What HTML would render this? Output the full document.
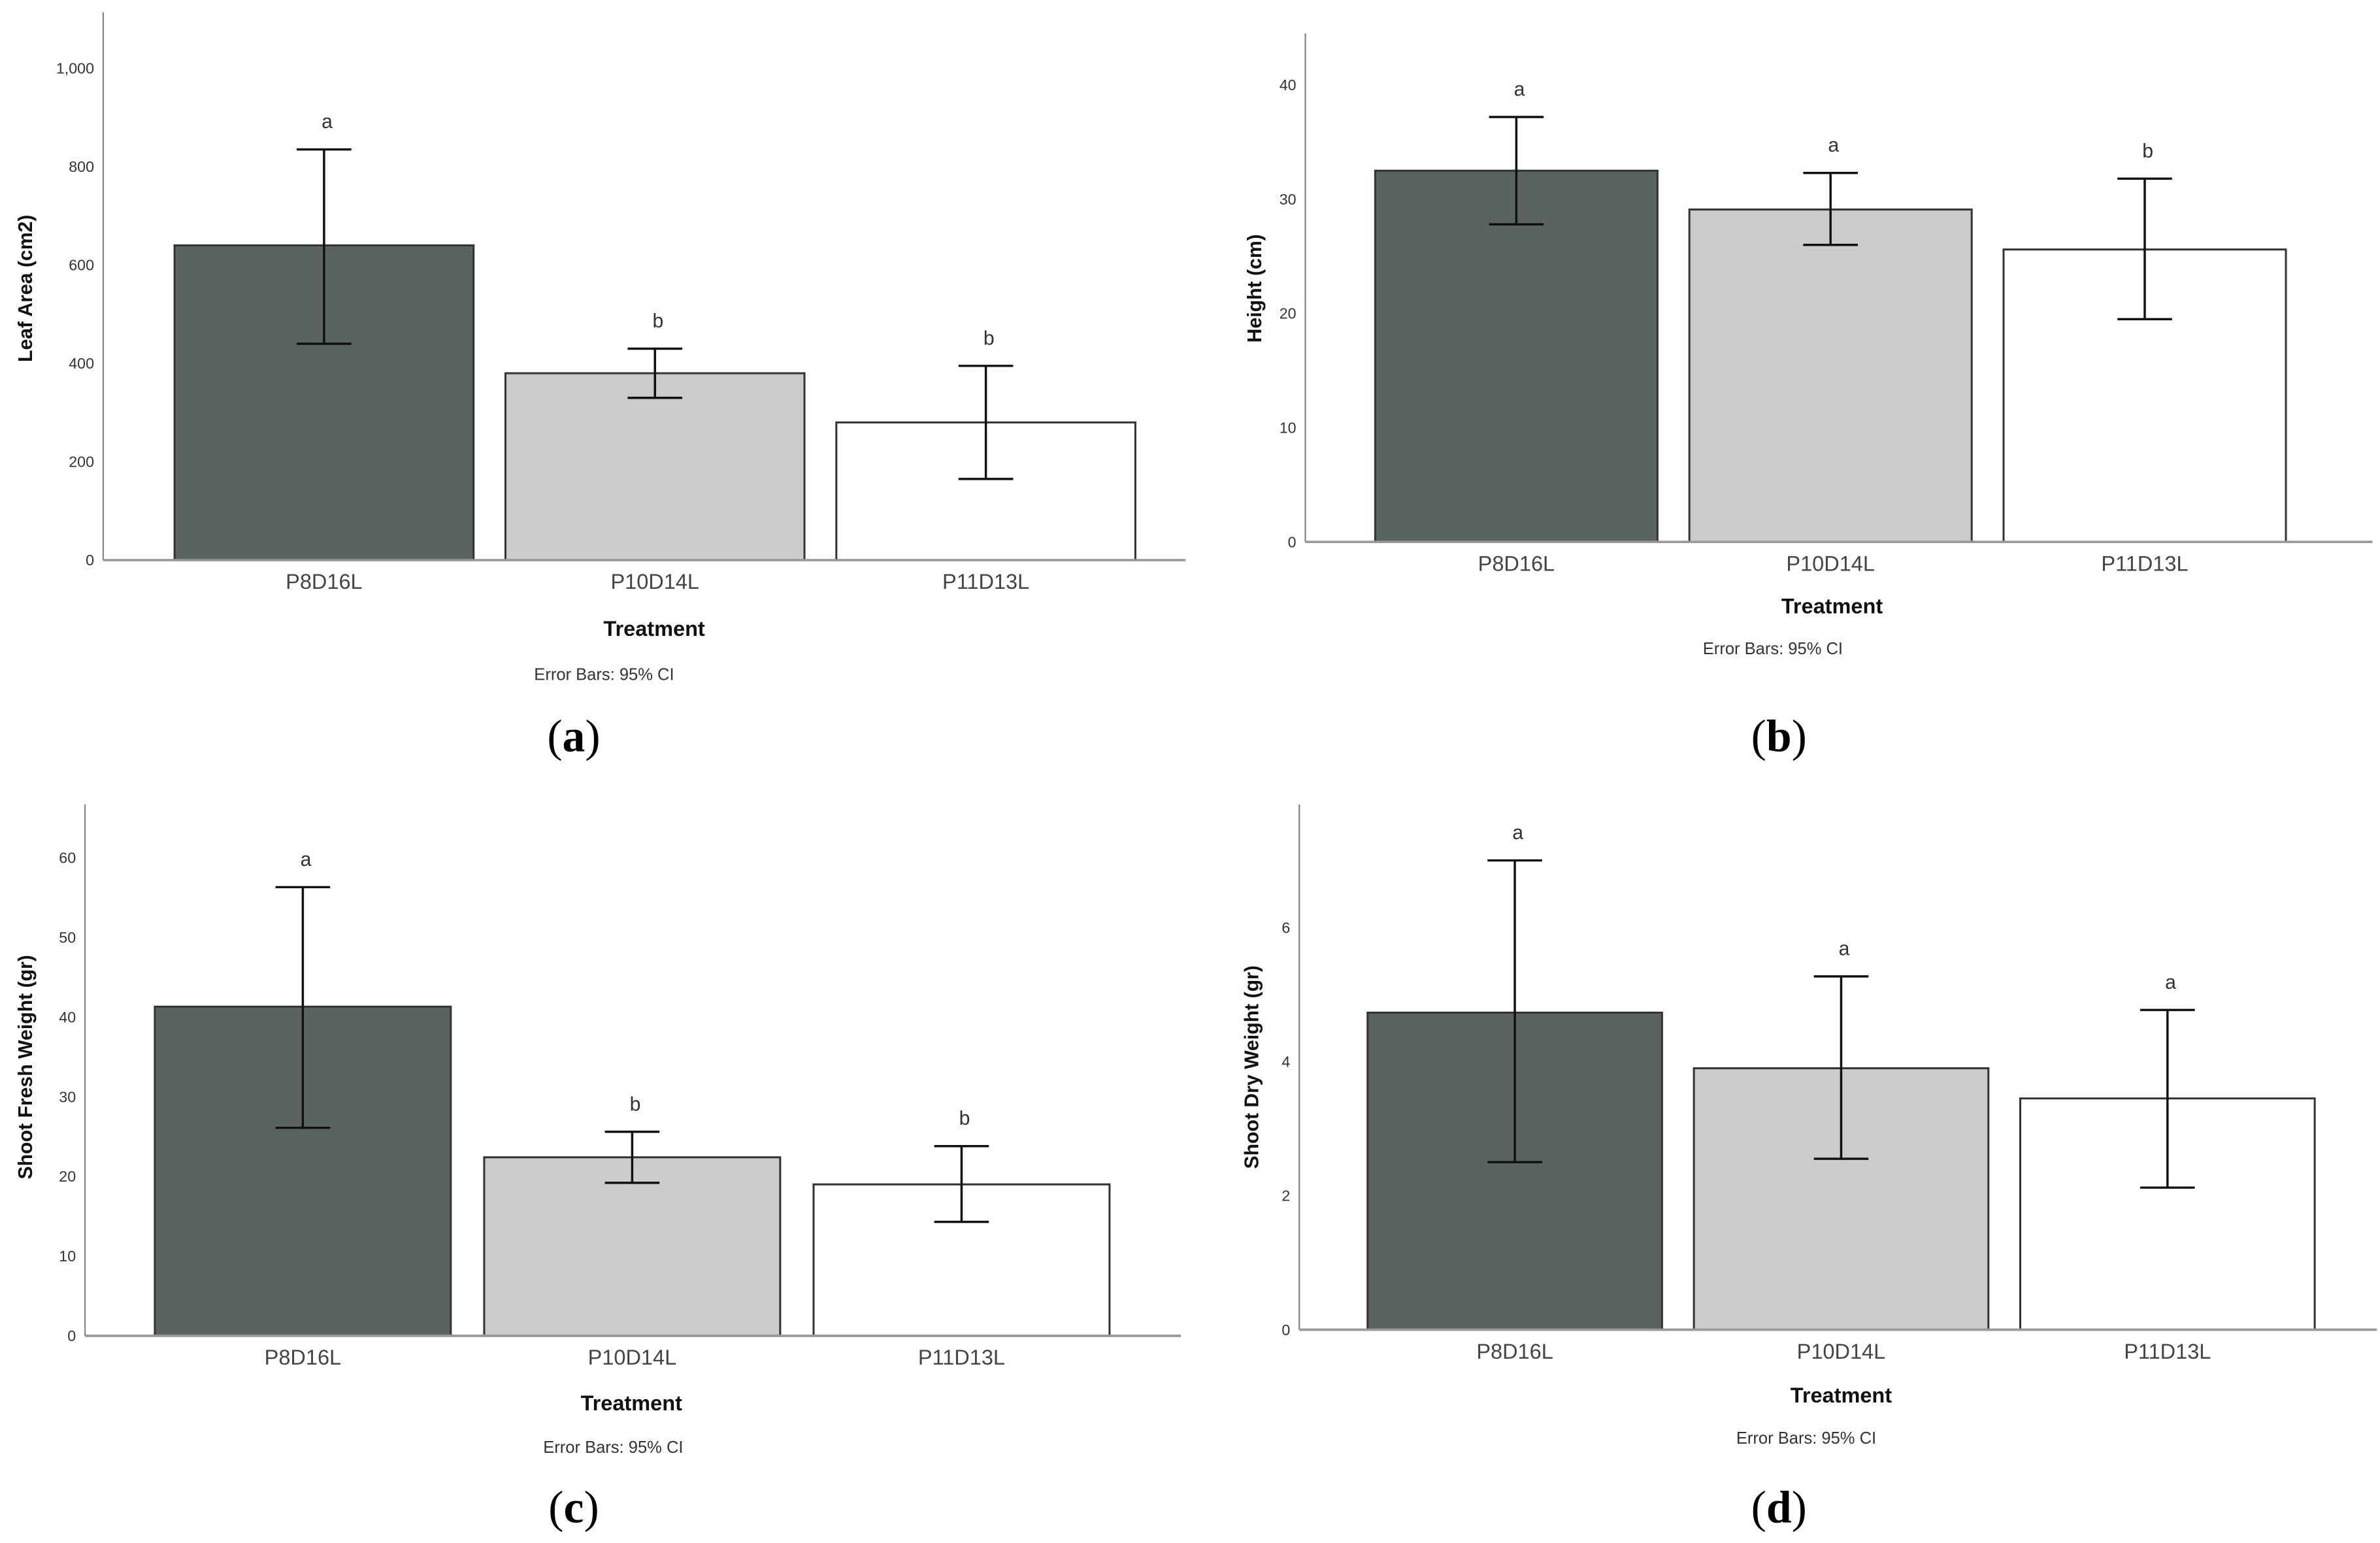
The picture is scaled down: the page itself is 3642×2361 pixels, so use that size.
<!DOCTYPE html>
<html><head><meta charset="utf-8">
<style>
html,body{margin:0;padding:0;background:#fff;}
svg{display:block;}
text{font-family:"Liberation Sans",sans-serif;}
</style></head>
<body>
<svg id="fig" width="3642" height="2361" viewBox="0 0 1568 1016.5" preserveAspectRatio="none" xmlns="http://www.w3.org/2000/svg">
<rect width="1568" height="1016.5" fill="#fff"/>
</svg>
<script>
const categories = ["P8D16L","P10D14L","P11D13L"];
const leafMeans = [640, 380, 280];
const leafHi = [835, 430, 395];
const leafLo = [440, 330, 165];
const leafLetters = ["a","b","b"];
const leafTicks = [0,200,400,600,800,1000];
const leafTickLabels = ["0","200","400","600","800","1,000"];
const heightMeans = [32.5, 29.1, 25.6];
const heightHi = [37.2, 32.3, 31.8];
const heightLo = [27.8, 26.0, 19.5];
const heightLetters = ["a","a","b"];
const heightTicks = [0,10,20,30,40];
const freshMeans = [41.3, 22.4, 19.0];
const freshHi = [56.3, 25.6, 23.8];
const freshLo = [26.1, 19.2, 14.3];
const freshLetters = ["a","b","b"];
const freshTicks = [0,10,20,30,40,50,60];
const dryMeans = [4.73, 3.9, 3.45];
const dryHi = [7.0, 5.27, 4.77];
const dryLo = [2.5, 2.55, 2.12];
const dryLetters = ["a","a","a"];
const dryTicks = [0,2,4,6];

const NS = "http://www.w3.org/2000/svg";
const svg = document.getElementById("fig");
const fills = ["#5a635d","#cbcbcb","#ffffff"];
function mk(tag, attrs, parent, txt){
  const e = document.createElementNS(NS, tag);
  for (const k in attrs) e.setAttribute(k, attrs[k]);
  if (txt !== undefined) e.textContent = txt;
  parent.appendChild(e);
  return e;
}
function panel(cfg){
  const g = mk("g", {}, svg);
  
  
  const y = v => cfg.y0 - v * (cfg.y0 - cfg.yTopTick) / cfg.vTop;
  const ya = mk("line", {x1:cfg.ax, y1:cfg.top, x2:cfg.ax, y2:cfg.y0, stroke:"#888", "stroke-width":1}, g);
  
  
  cfg.ticks.forEach((t, i) => {
    const tl = mk("text", {x:cfg.ax-6, y:y(t)+3.5, "font-size":10, fill:"#333", "text-anchor":"end"}, g, cfg.tickLabels ? cfg.tickLabels[i] : String(t));
    
    
  });
  const yt = mk("text", {x:0, y:0, "font-size":13, "font-weight":"bold", fill:"#111", "text-anchor":"middle", transform:`translate(${cfg.ytx},${cfg.yty}) rotate(-90)`}, g, cfg.ytitle);
  
  
  categories.forEach((c, i) => {
    const x0 = cfg.bx[i], w = cfg.bw;
    const r = mk("rect", {x:x0, y:y(cfg.means[i]), width:w, height:cfg.y0 - y(cfg.means[i]), fill:fills[i], stroke:"#333", "stroke-width":1.3}, g);
    
    
    const cx = x0 + w/2;
    const eb = mk("path", {d:`M${cx},${y(cfg.hi[i])}V${y(cfg.lo[i])}M${cx-18},${y(cfg.hi[i])}H${cx+18}M${cx-18},${y(cfg.lo[i])}H${cx+18}`, stroke:"#111", "stroke-width":1.5, fill:"none"}, g);
    
    
    const lt = mk("text", {x:cx+2, y:y(cfg.hi[i]) - 14, "font-size":13, fill:"#333", "text-anchor":"middle"}, g, cfg.letters[i]);
    
    
    const cl = mk("text", {x:cx, y:cfg.y0+19, "font-size":14, fill:"#444", "text-anchor":"middle"}, g, c);
    
    
  });
  const xa = mk("line", {x1:cfg.ax, y1:cfg.y0, x2:cfg.right, y2:cfg.y0, stroke:"#999", "stroke-width":1.6}, g);
  
  
  const xt = mk("text", {x:cfg.tx, y:cfg.ty, "font-size":14, "font-weight":"bold", fill:"#111", "text-anchor":"middle"}, g, "Treatment");
  
  
  const en = mk("text", {x:cfg.ex, y:cfg.ey, "font-size":11, fill:"#333", "text-anchor":"middle"}, g, "Error Bars: 95% CI");
  
  
  const pl = mk("text", {x:cfg.px, y:cfg.py, "font-size":30, fill:"#000", "text-anchor":"middle", style:"font-family:'Liberation Serif',serif"}, g);
  
  
  mk("tspan", {}, pl, "(");
  mk("tspan", {"font-weight":"bold"}, pl, cfg.letter);
  mk("tspan", {}, pl, ")");
}
panel({name:"panel-a-leaf-area", ax:68, top:8, y0:369, yTopTick:45, vTop:1000, right:781, ticks:leafTicks, tickLabels:leafTickLabels,
  ytitle:"Leaf Area (cm2)", ytx:21, yty:190, bx:[115,333,551], bw:197, means:leafMeans, hi:leafHi, lo:leafLo, letters:leafLetters,
  tx:431, ty:419, ex:398, ey:448, px:378, py:495, letter:"a"});
panel({name:"panel-b-height", ax:860, top:22, y0:357, yTopTick:56, vTop:40, right:1563, ticks:heightTicks,
  ytitle:"Height (cm)", ytx:831, yty:190, bx:[906,1113,1320], bw:186, means:heightMeans, hi:heightHi, lo:heightLo, letters:heightLetters,
  tx:1207, ty:404, ex:1168, ey:431, px:1172, py:495, letter:"b"});
panel({name:"panel-c-shoot-fresh-weight", ax:56, top:530, y0:880, yTopTick:565, vTop:60, right:778, ticks:freshTicks,
  ytitle:"Shoot Fresh Weight (gr)", ytx:21, yty:703, bx:[102,319,536], bw:195, means:freshMeans, hi:freshHi, lo:freshLo, letters:freshLetters,
  tx:416, ty:929, ex:404, ey:957, px:378, py:1003, letter:"c"});
panel({name:"panel-d-shoot-dry-weight", ax:856, top:530, y0:876, yTopTick:611, vTop:6, right:1566, ticks:dryTicks,
  ytitle:"Shoot Dry Weight (gr)", ytx:829, yty:703, bx:[901,1116,1331], bw:194, means:dryMeans, hi:dryHi, lo:dryLo, letters:dryLetters,
  tx:1213, ty:924, ex:1190, ey:951, px:1172, py:1003, letter:"d"});
</script>
</body></html>
